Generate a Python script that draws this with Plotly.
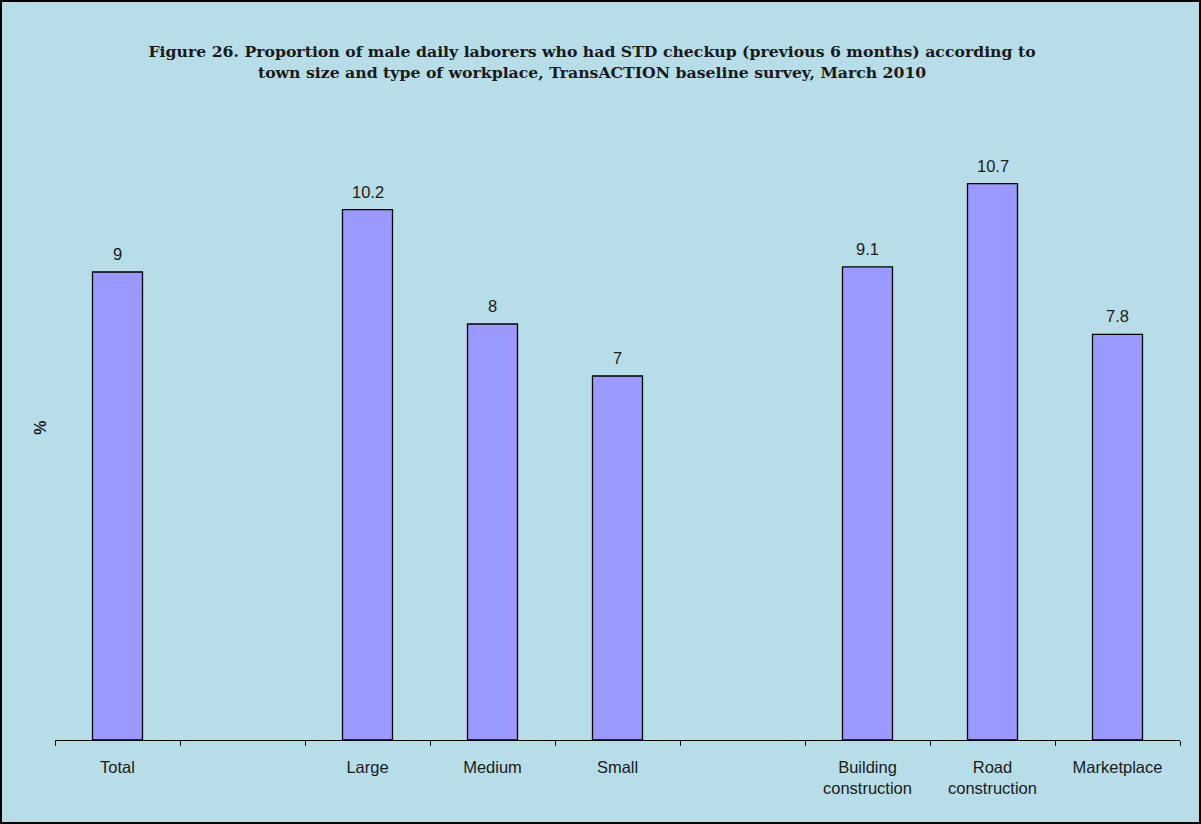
import plotly.graph_objects as go

categories = ["Total", " ", "Large", "Medium", "Small", "  ",
              "Building<br>construction", "Road<br>construction", "Marketplace"]
values = [9, None, 10.2, 8, 7, None, 9.1, 10.7, 7.8]
value_labels = ["9", "", "10.2", "8", "7", "", "9.1", "10.7", "7.8"]

bg = "#B7DEE8"
sans = "Liberation Sans, Arial"

fig = go.Figure(go.Bar(
    x=categories, y=values, width=0.4,
    marker=dict(color="#9999FF", line=dict(color="black", width=1.3)),
))

for c, v, t in zip(categories, values, value_labels):
    if v is not None:
        fig.add_annotation(x=c, y=v, text=t, showarrow=False, yanchor="bottom",
                           yshift=7, font=dict(family=sans, size=16.5, color="#1a1a1a"))

fig.update_layout(
    width=1201, height=824,
    paper_bgcolor=bg, plot_bgcolor=bg,
    margin=dict(l=55, r=21, t=116, b=84),
    showlegend=False,
    title=dict(
        text="Figure 26. Proportion of male daily laborers who had STD checkup (previous 6 months) according to<br>town size and type of workplace, TransACTION baseline survey, March 2010",
        x=0.493, xanchor="center", y=0.9305, yanchor="middle",
        font=dict(family="DejaVu Serif", size=15.7, color="#1a1a1a", weight="bold"),
    ),
    xaxis=dict(
        type="category", tickson="boundaries", ticks="outside", ticklen=5,
        tickcolor="black", showline=True, linecolor="black", linewidth=1,
        showgrid=False, ticklabelstandoff=12,
        tickfont=dict(family=sans, size=16.5, color="#1a1a1a"),
    ),
    yaxis=dict(range=[0, 12], showgrid=False, showticklabels=False,
               showline=False, zeroline=False, ticks=""),
)

fig.add_annotation(
    text="<b>%</b>", xref="paper", yref="paper", x=-0.0135, y=0.5,
    xanchor="center", yanchor="middle",
    textangle=-90, showarrow=False,
    font=dict(family=sans, size=16, color="#1a1a1a"),
)

fig.add_shape(type="rect", xref="paper", yref="paper",
              x0=-54/1125, x1=1 + 20/1125, y0=-83/624, y1=1 + 115/624,
              line=dict(color="black", width=2), fillcolor="rgba(0,0,0,0)", layer="above")

fig.write_html("out.html", config={"displayModeBar": False},
               post_script="document.body.style.margin='0';")
